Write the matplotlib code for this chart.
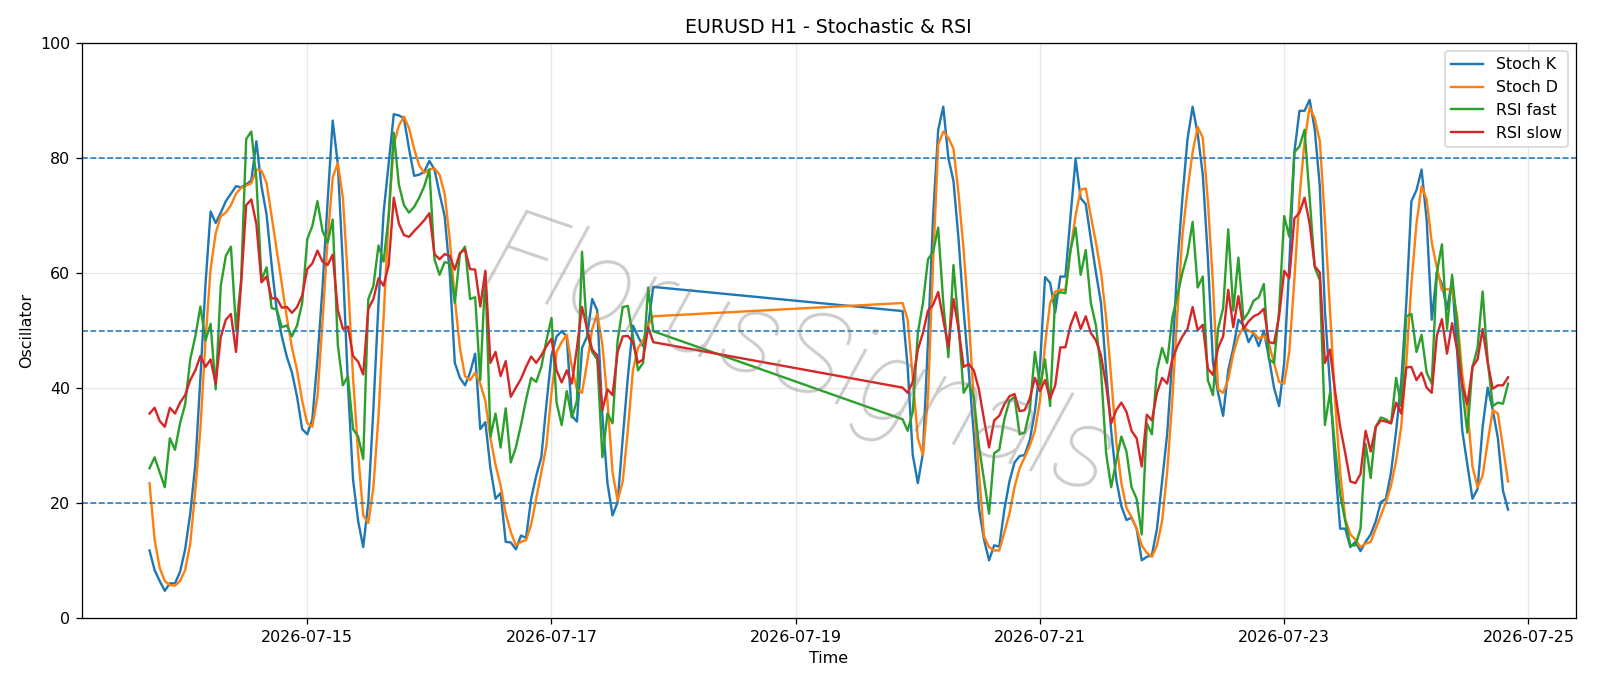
#imports
import numpy as np
import pandas as pd
import matplotlib
matplotlib.use("Agg")
import matplotlib.pyplot as plt
import matplotlib.dates as mdates

#hourly bars, friday close -> sunday open gap
week1 = pd.date_range("2026-07-13 17:00", "2026-07-17 20:00", freq="h")
week2 = pd.date_range("2026-07-19 21:00", "2026-07-24 20:00", freq="h")
times = week1.append(week2)

#oscillator values
stoch_k_1 = [11.8, 8.4, 6.5, 4.8, 6.1, 6.1, 8.1, 12.0, 18.2, 26.7,
             41.8, 58.1, 70.7, 68.7, 70.5, 72.5, 73.8, 75.1, 74.9, 75.4,
             76.1, 82.9, 75.1, 70.2, 61.4, 53.5, 49.0, 45.4, 42.7, 38.5,
             32.9, 32.0, 34.6, 45.0, 57.5, 72.5, 86.5, 79.0, 61.4, 40.5,
             24.1, 16.9, 12.4, 20.2, 36.5, 54.8, 70.5, 79.0, 87.6, 87.4,
             86.9, 81.6, 76.9, 77.1, 77.6, 79.5, 78.0, 73.8, 69.9, 60.1,
             44.4, 41.8, 40.5, 42.7, 46.0, 32.9, 34.1, 26.1, 20.8, 21.8,
             13.3, 13.2, 12.0, 14.4, 14.0, 20.8, 24.8, 28.0, 37.2, 45.7,
             49.0, 49.9, 49.0, 35.2, 34.2, 47.0, 49.0, 55.5, 53.5, 35.2,
             23.5, 17.9, 20.2, 31.3, 41.8, 50.9, 49.0, 47.3, 50.9, 57.6]
stoch_k_2 = [53.4, 43.7, 28.4, 23.5, 28.7, 48.3, 69.9, 84.9, 88.9, 80.0,
             76.0, 65.9, 53.5, 43.1, 32.0, 19.2, 13.7, 10.1, 12.7, 12.5,
             18.9, 23.8, 27.1, 28.2, 28.4, 31.0, 35.9, 43.7, 59.3, 58.3,
             53.2, 59.4, 59.4, 69.8, 79.8, 73.0, 72.0, 65.9, 60.1, 54.8,
             43.1, 32.6, 24.1, 19.5, 17.1, 17.5, 15.6, 10.1, 10.7, 11.0,
             15.6, 23.8, 32.0, 45.0, 61.4, 73.1, 83.3, 88.9, 84.2, 77.1,
             62.7, 44.4, 39.2, 35.2, 43.1, 47.0, 51.9, 50.9, 48.0, 49.6,
             47.3, 50.0, 45.3, 40.1, 36.9, 44.4, 61.4, 81.0, 88.2, 88.2,
             90.1, 85.0, 75.1, 53.5, 40.5, 26.8, 15.6, 15.6, 12.4, 13.3,
             11.7, 13.3, 14.6, 16.9, 20.2, 20.8, 25.4, 32.6, 41.1, 54.8,
             72.5, 74.4, 78.0, 69.2, 51.9, 60.1, 58.1, 53.7, 58.8, 46.3,
             32.6, 26.7, 20.8, 22.5, 33.3, 40.1, 36.2, 31.3, 22.2, 18.9]

stoch_d_1 = [23.5, 13.7, 8.8, 6.5, 5.8, 5.7, 6.5, 8.4, 13.0, 22.2,
             33.0, 48.3, 60.7, 66.9, 69.9, 70.5, 71.8, 73.8, 74.8, 75.2,
             75.6, 78.0, 77.8, 75.7, 69.9, 64.0, 58.1, 52.2, 47.0, 43.1,
             37.8, 33.9, 33.3, 38.5, 51.6, 65.9, 76.6, 79.1, 73.1, 58.8,
             41.8, 28.7, 17.9, 16.6, 22.8, 35.2, 52.2, 69.9, 82.3, 85.6,
             87.2, 85.2, 81.6, 78.7, 77.4, 78.0, 78.2, 77.1, 73.8, 65.9,
             55.5, 47.0, 42.1, 41.4, 42.7, 40.8, 37.8, 31.3, 26.7, 23.1,
             18.2, 15.0, 12.7, 13.3, 13.6, 16.3, 20.8, 25.4, 30.0, 39.2,
             46.3, 48.0, 49.3, 43.7, 39.8, 39.2, 44.4, 50.3, 52.9, 47.6,
             37.8, 25.4, 20.5, 23.8, 32.6, 43.1, 47.0, 48.3, 50.9, 52.5]
stoch_d_2 = [54.8, 51.9, 41.8, 31.3, 28.4, 38.5, 62.0, 82.3, 84.6, 83.5,
             81.6, 73.8, 64.0, 52.2, 37.8, 25.4, 14.3, 12.4, 11.8, 11.8,
             14.9, 18.2, 22.8, 26.1, 28.0, 30.0, 32.6, 37.8, 47.6, 54.8,
             56.8, 57.1, 57.1, 64.0, 70.0, 74.5, 74.7, 69.9, 65.3, 60.1,
             52.3, 41.8, 30.7, 23.5, 19.2, 17.6, 15.6, 12.7, 11.4, 10.7,
             12.7, 16.9, 25.4, 37.8, 52.9, 66.6, 74.4, 81.0, 85.4, 83.5,
             72.5, 58.1, 39.8, 39.2, 41.5, 46.0, 49.0, 50.6, 50.0, 49.6,
             48.6, 49.1, 47.7, 44.4, 41.1, 40.8, 46.3, 58.8, 73.1, 82.9,
             88.8, 86.9, 82.9, 69.2, 53.5, 37.8, 25.4, 17.3, 14.6, 13.7,
             12.4, 13.0, 13.3, 15.6, 17.9, 20.2, 23.1, 27.4, 33.3, 44.4,
             58.1, 68.6, 75.1, 72.8, 65.3, 61.0, 57.0, 57.2, 57.1, 52.6,
             42.4, 36.5, 26.4, 22.8, 24.8, 30.7, 36.2, 35.6, 29.7, 23.8]

rsi_fast_1 = [26.1, 28.0, 25.4, 22.8, 31.3, 29.3, 33.9, 37.2, 45.0, 49.0,
              54.2, 48.3, 51.2, 39.8, 57.8, 63.0, 64.6, 50.3, 58.8, 83.3,
              84.6, 76.4, 58.8, 61.0, 53.9, 53.7, 50.6, 50.9, 49.0, 50.9,
              54.8, 65.9, 68.2, 72.5, 67.3, 65.3, 69.3, 47.6, 40.5, 42.1,
              32.9, 31.6, 27.7, 55.5, 57.8, 64.8, 62.0, 69.9, 84.4, 75.4,
              71.8, 70.5, 71.5, 73.1, 75.1, 78.0, 62.4, 59.7, 61.9, 61.7,
              54.8, 63.3, 64.6, 55.5, 55.8, 41.4, 60.1, 31.6, 35.6, 29.7,
              36.5, 27.1, 29.7, 33.6, 38.0, 41.8, 41.1, 43.7, 48.3, 52.2,
              37.5, 33.6, 39.5, 34.9, 37.8, 63.7, 49.6, 46.3, 45.0, 28.0,
              35.6, 33.9, 48.3, 54.1, 54.3, 49.0, 43.1, 44.4, 57.5, 49.9]
rsi_fast_2 = [34.6, 32.6, 35.9, 49.6, 54.8, 62.4, 63.7, 67.9, 54.8, 45.4,
              61.4, 50.9, 39.2, 40.8, 38.5, 30.0, 24.1, 18.2, 28.7, 29.3,
              34.6, 37.8, 38.5, 32.0, 32.3, 36.2, 46.3, 40.5, 45.0, 36.9,
              56.1, 56.7, 56.5, 64.0, 67.9, 59.7, 64.0, 54.8, 50.9, 43.1,
              28.7, 22.8, 27.4, 31.6, 29.0, 22.8, 20.8, 14.6, 33.9, 32.0,
              43.1, 47.0, 44.4, 52.2, 56.1, 60.1, 63.3, 68.9, 57.5, 59.4,
              41.4, 38.8, 50.3, 53.9, 67.6, 53.5, 62.7, 51.9, 53.2, 55.2,
              55.8, 58.1, 45.0, 44.4, 53.5, 69.9, 66.3, 81.0, 82.0, 84.9,
              73.1, 61.0, 58.8, 33.6, 39.2, 29.7, 21.5, 16.9, 12.7, 12.7,
              15.6, 30.3, 24.4, 33.3, 34.9, 34.6, 33.9, 41.8, 36.9, 52.5,
              52.9, 46.3, 49.3, 42.7, 40.8, 60.1, 65.0, 50.3, 59.7, 50.9,
              39.8, 32.3, 43.7, 47.0, 56.8, 44.7, 36.9, 37.5, 37.3, 40.8]

rsi_slow_1 = [35.6, 36.6, 34.3, 33.3, 36.6, 35.6, 37.5, 38.8, 41.4, 43.1,
              45.6, 43.7, 45.0, 40.8, 48.9, 51.9, 52.9, 46.3, 58.1, 71.8,
              72.8, 68.5, 58.4, 59.4, 55.6, 55.6, 54.0, 54.1, 53.1, 54.1,
              56.1, 60.7, 61.7, 63.9, 62.0, 61.4, 63.2, 53.6, 50.3, 50.7,
              45.6, 44.6, 42.4, 53.8, 55.5, 59.1, 57.8, 61.4, 73.1, 68.6,
              66.6, 66.3, 67.3, 68.2, 69.2, 70.4, 63.3, 62.4, 63.3, 63.0,
              60.6, 63.5, 64.1, 60.7, 60.6, 54.2, 60.4, 44.4, 46.3, 42.1,
              44.7, 38.5, 40.1, 41.6, 43.7, 45.5, 44.4, 45.7, 47.3, 48.6,
              43.1, 41.0, 43.1, 40.8, 47.0, 54.1, 50.3, 46.7, 45.7, 36.2,
              39.8, 38.8, 46.3, 49.0, 49.1, 48.0, 44.4, 45.0, 50.6, 48.0]
rsi_slow_2 = [40.1, 39.2, 41.1, 46.7, 49.6, 53.5, 54.5, 56.7, 51.9, 47.1,
              55.5, 50.3, 43.7, 44.2, 43.1, 39.8, 34.6, 29.7, 34.4, 35.2,
              37.2, 38.6, 39.0, 36.0, 36.2, 38.2, 41.8, 39.5, 41.4, 38.2,
              40.5, 47.1, 47.1, 50.9, 53.2, 50.3, 52.5, 49.6, 48.3, 45.7,
              40.5, 33.9, 36.2, 37.5, 35.9, 32.6, 31.3, 26.4, 35.4, 34.4,
              39.2, 41.8, 40.8, 45.0, 47.3, 49.0, 50.3, 54.1, 50.1, 51.0,
              43.4, 42.3, 47.0, 49.0, 57.1, 50.6, 56.0, 50.3, 51.6, 52.5,
              52.9, 53.8, 48.0, 47.8, 52.5, 60.4, 59.1, 69.5, 70.5, 73.1,
              68.6, 61.2, 60.1, 44.4, 46.7, 39.5, 33.3, 28.7, 23.8, 23.5,
              25.1, 32.6, 29.0, 33.3, 34.4, 34.2, 33.9, 37.5, 35.6, 43.6,
              43.7, 41.4, 42.7, 40.1, 39.2, 49.1, 52.0, 46.0, 51.3, 46.6,
              40.5, 37.2, 43.7, 45.0, 50.3, 44.4, 39.9, 40.5, 40.5, 41.9]

levels = [80, 50, 20]
watermark = "FlorusSignals"

#figure
dpi = 1600 / 14
fig, ax = plt.subplots(figsize=(14, 686 / dpi))
fig.subplots_adjust(left=0.051, right=0.985, top=0.9375, bottom=0.0985)

ax.plot(times, stoch_k_1 + stoch_k_2, label="Stoch K")
ax.plot(times, stoch_d_1 + stoch_d_2, label="Stoch D")
ax.plot(times, rsi_fast_1 + rsi_fast_2, label="RSI fast")
ax.plot(times, rsi_slow_1 + rsi_slow_2, label="RSI slow")

for lv in levels:
    ax.axhline(lv, linestyle="--", linewidth=1)

ax.set_ylim(0, 100)
ax.set_title("EURUSD H1 - Stochastic & RSI")
ax.set_xlabel("Time")
ax.set_ylabel("Oscillator")
ax.xaxis.set_major_locator(mdates.DayLocator(bymonthday=[15, 17, 19, 21, 23, 25]))
ax.xaxis.set_major_formatter(mdates.DateFormatter("%Y-%m-%d"))
ax.grid(True, alpha=0.3)
ax.legend(loc="upper right")

#watermark
fig.text(0.5, 0.475, watermark, fontsize=73, family="Roboto", weight=100,
         style="italic", color="gray", alpha=0.4, rotation=-19,
         ha="center", va="center")

fig.savefig("out.png", dpi=dpi)
